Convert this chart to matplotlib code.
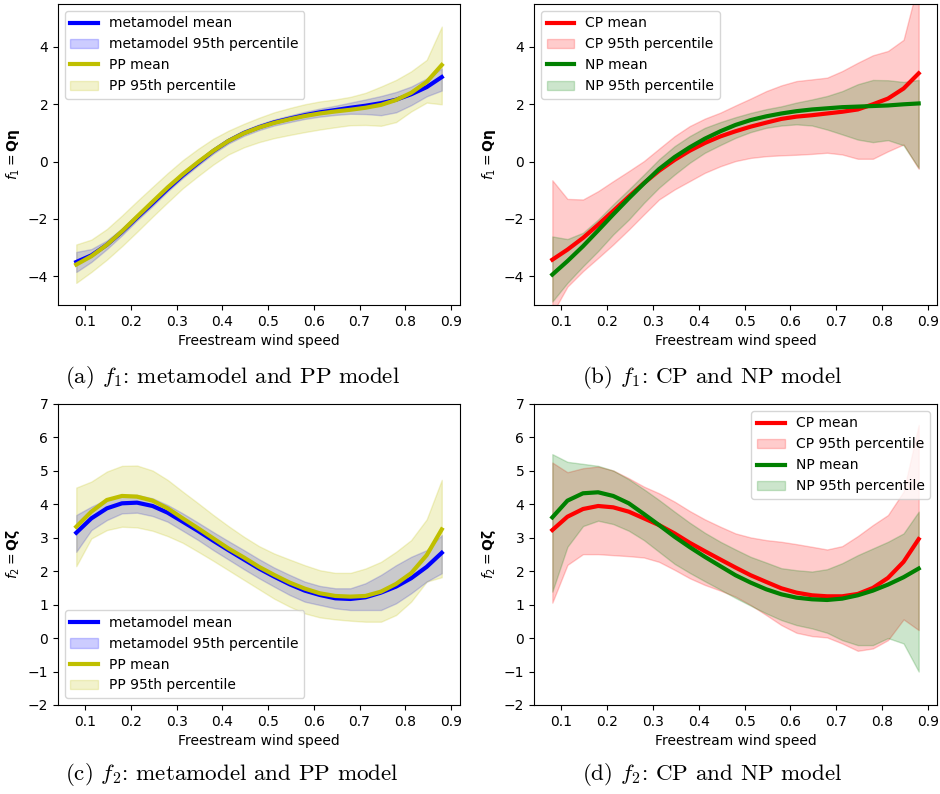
import numpy as np
import matplotlib
matplotlib.use('Agg')
import matplotlib.pyplot as plt

# freestream wind speed grid
x = [0.08, 0.113, 0.147, 0.18, 0.213, 0.247, 0.28, 0.313, 0.347, 0.38, 0.413, 0.447, 0.48,
     0.513, 0.547, 0.58, 0.613, 0.647, 0.68, 0.713, 0.747, 0.78, 0.813, 0.847, 0.88]

# (a) f1: metamodel and PP
meta1_mean = [-3.50, -3.27, -2.90, -2.45, -1.95, -1.45, -0.95, -0.48, -0.04, 0.37, 0.72, 1.00, 1.20,
              1.37, 1.50, 1.62, 1.72, 1.80, 1.88, 1.95, 2.04, 2.16, 2.35, 2.60, 2.95]
meta1_hi = [-3.15, -3.05, -2.75, -2.33, -1.85, -1.36, -0.86, -0.39, 0.05, 0.46, 0.81, 1.09, 1.30,
            1.47, 1.61, 1.74, 1.85, 1.95, 2.06, 2.17, 2.29, 2.43, 2.62, 2.90, 3.25]
meta1_lo = [-3.85, -3.50, -3.05, -2.57, -2.05, -1.55, -1.04, -0.57, -0.13, 0.28, 0.63, 0.90, 1.10,
            1.26, 1.38, 1.49, 1.57, 1.63, 1.67, 1.66, 1.62, 1.72, 1.97, 2.28, 2.48]
pp1_mean = [-3.59, -3.30, -2.90, -2.43, -1.92, -1.40, -0.90, -0.44, -0.01, 0.38, 0.72, 0.99, 1.19,
            1.35, 1.48, 1.59, 1.68, 1.75, 1.81, 1.88, 1.98, 2.15, 2.40, 2.78, 3.37]
pp1_hi = [-2.89, -2.72, -2.35, -1.88, -1.38, -0.88, -0.40, 0.05, 0.45, 0.80, 1.08, 1.32, 1.53,
          1.72, 1.87, 2.00, 2.10, 2.17, 2.26, 2.40, 2.62, 2.85, 3.15, 3.55, 4.71]
pp1_lo = [-4.23, -3.85, -3.42, -2.95, -2.45, -1.92, -1.42, -0.93, -0.50, -0.10, 0.25, 0.50, 0.68,
          0.82, 0.93, 1.03, 1.12, 1.20, 1.27, 1.28, 1.25, 1.38, 1.75, 2.06, 2.00]

# (b) f1: CP and NP
cp1_mean = [-3.42, -3.07, -2.66, -2.20, -1.72, -1.22, -0.75, -0.32, 0.06, 0.38, 0.65, 0.88, 1.06,
            1.22, 1.36, 1.49, 1.57, 1.62, 1.68, 1.74, 1.82, 2.00, 2.20, 2.55, 3.08]
cp1_hi = [-0.65, -1.30, -1.32, -1.03, -0.68, -0.33, 0.02, 0.45, 0.89, 1.24, 1.50, 1.71, 1.96,
          2.20, 2.46, 2.66, 2.81, 2.87, 2.93, 3.16, 3.45, 3.71, 3.86, 4.25, 6.30]
cp1_lo = [-5.30, -4.36, -3.82, -3.36, -2.89, -2.37, -1.84, -1.32, -0.97, -0.68, -0.39, -0.16, 0.02,
          0.13, 0.19, 0.22, 0.24, 0.27, 0.31, 0.25, 0.10, 0.10, 0.36, 0.60, -0.25]
np1_mean = [-3.94, -3.47, -2.95, -2.40, -1.84, -1.28, -0.76, -0.26, 0.16, 0.50, 0.80, 1.06, 1.28,
            1.45, 1.58, 1.68, 1.76, 1.82, 1.86, 1.90, 1.92, 1.94, 1.96, 2.00, 2.03]
np1_hi = [-2.61, -2.70, -2.48, -2.02, -1.49, -0.97, -0.45, 0.08, 0.54, 0.89, 1.18, 1.38, 1.55,
          1.70, 1.83, 1.93, 2.06, 2.17, 2.29, 2.46, 2.70, 2.85, 2.84, 2.78, 2.85]
np1_lo = [-4.88, -4.23, -3.65, -3.12, -2.54, -2.02, -1.44, -0.91, -0.45, -0.04, 0.31, 0.58, 0.83,
          1.03, 1.18, 1.26, 1.30, 1.26, 1.12, 0.95, 0.77, 0.68, 0.75, 0.57, -0.22]

# (c) f2: metamodel and PP
meta2_mean = [3.15, 3.58, 3.88, 4.03, 4.05, 3.95, 3.75, 3.48, 3.20, 2.91, 2.63, 2.35, 2.08,
              1.84, 1.61, 1.42, 1.29, 1.19, 1.17, 1.22, 1.36, 1.54, 1.79, 2.13, 2.55]
meta2_hi = [3.68, 3.93, 4.15, 4.28, 4.28, 4.18, 3.98, 3.73, 3.45, 3.17, 2.90, 2.63, 2.36,
            2.11, 1.89, 1.69, 1.56, 1.49, 1.49, 1.64, 1.89, 2.18, 2.43, 2.63, 3.08]
meta2_lo = [2.58, 3.23, 3.53, 3.73, 3.75, 3.65, 3.48, 3.21, 2.93, 2.63, 2.35, 2.06, 1.79,
            1.54, 1.29, 1.09, 0.99, 0.89, 0.84, 0.84, 0.84, 1.04, 1.34, 1.69, 1.94]
pp2_mean = [3.33, 3.78, 4.13, 4.25, 4.23, 4.11, 3.88, 3.58, 3.28, 2.98, 2.68, 2.41, 2.13,
            1.89, 1.66, 1.48, 1.34, 1.26, 1.24, 1.26, 1.39, 1.62, 1.94, 2.48, 3.25]
pp2_hi = [4.50, 4.68, 4.98, 5.15, 5.16, 5.01, 4.73, 4.38, 4.03, 3.68, 3.35, 3.03, 2.75,
          2.53, 2.35, 2.18, 2.03, 1.95, 1.95, 2.08, 2.28, 2.58, 2.93, 3.55, 4.73]
pp2_lo = [2.15, 2.98, 3.23, 3.33, 3.31, 3.21, 3.05, 2.85, 2.58, 2.31, 2.03, 1.74, 1.46,
          1.18, 0.94, 0.74, 0.62, 0.56, 0.52, 0.49, 0.49, 0.69, 1.09, 1.69, 1.82]

# (d) f2: CP and NP
cp2_mean = [3.23, 3.63, 3.86, 3.95, 3.91, 3.78, 3.58, 3.38, 3.13, 2.85, 2.60, 2.35, 2.11,
            1.88, 1.68, 1.49, 1.36, 1.28, 1.25, 1.25, 1.32, 1.50, 1.80, 2.28, 2.96]
cp2_hi = [5.25, 4.96, 5.08, 5.13, 5.01, 4.78, 4.53, 4.33, 4.08, 3.80, 3.55, 3.33, 3.13,
          3.01, 2.93, 2.88, 2.81, 2.73, 2.65, 2.75, 3.05, 3.38, 3.68, 4.38, 6.37]
cp2_lo = [1.06, 2.19, 2.51, 2.51, 2.48, 2.45, 2.41, 2.28, 2.04, 1.79, 1.59, 1.42, 1.24,
          0.99, 0.69, 0.39, 0.16, 0.06, 0.02, -0.16, -0.38, -0.31, -0.06, 0.56, 0.24]
np2_mean = [3.61, 4.11, 4.33, 4.36, 4.25, 4.03, 3.71, 3.38, 3.03, 2.72, 2.43, 2.15, 1.88,
            1.66, 1.46, 1.31, 1.21, 1.16, 1.14, 1.18, 1.28, 1.42, 1.60, 1.82, 2.08]
np2_hi = [5.50, 5.27, 5.21, 5.15, 5.01, 4.75, 4.45, 4.13, 3.78, 3.45, 3.15, 2.88, 2.65,
          2.43, 2.26, 2.09, 2.03, 1.99, 2.06, 2.24, 2.48, 2.68, 2.88, 3.13, 3.78]
np2_lo = [1.39, 2.73, 3.35, 3.51, 3.41, 3.21, 2.93, 2.58, 2.22, 1.95, 1.70, 1.45, 1.20,
          0.97, 0.74, 0.54, 0.39, 0.29, 0.16, -0.06, -0.21, -0.21, 0.00, -0.16, -1.00]

fig = plt.figure(figsize=(9.4, 7.94), dpi=100)
ax_a = fig.add_axes([0.0617, 0.6159, 0.4277, 0.3791])
ax_b = fig.add_axes([0.5681, 0.6159, 0.4287, 0.3791])
ax_c = fig.add_axes([0.0617, 0.1121, 0.4277, 0.3791])
ax_d = fig.add_axes([0.5681, 0.1121, 0.4287, 0.3791])


def draw(ax, m1, lo1, hi1, c1, n1, m2, lo2, hi2, c2, n2):
    ax.plot(x, m1, color=c1, lw=3, label=n1 + ' mean')
    ax.fill_between(x, lo1, hi1, color=c1, alpha=0.2, label=n1 + ' 95th percentile')
    ax.plot(x, m2, color=c2, lw=3, label=n2 + ' mean')
    ax.fill_between(x, lo2, hi2, color=c2, alpha=0.2, label=n2 + ' 95th percentile')
    ax.set_xlabel('Freestream wind speed')
    ax.set_xticks([0.1, 0.2, 0.3, 0.4, 0.5, 0.6, 0.7, 0.8, 0.9])


draw(ax_a, meta1_mean, meta1_lo, meta1_hi, 'b', 'metamodel', pp1_mean, pp1_lo, pp1_hi, 'y', 'PP')
draw(ax_b, cp1_mean, cp1_lo, cp1_hi, 'r', 'CP', np1_mean, np1_lo, np1_hi, 'g', 'NP')
draw(ax_c, meta2_mean, meta2_lo, meta2_hi, 'b', 'metamodel', pp2_mean, pp2_lo, pp2_hi, 'y', 'PP')
draw(ax_d, cp2_mean, cp2_lo, cp2_hi, 'r', 'CP', np2_mean, np2_lo, np2_hi, 'g', 'NP')

for ax in (ax_a, ax_b):
    ax.set_ylim(-5, 5.5)
    ax.set_ylabel(r'$f_1 = \mathbf{Q\eta}$')
for ax in (ax_c, ax_d):
    ax.set_ylim(-2, 7)
    ax.set_ylabel(r'$f_2 = \mathbf{Q\zeta}$')

ax_a.legend(loc='upper left')
ax_b.legend(loc='upper left')
ax_c.legend(loc='lower left')
ax_d.legend(loc='upper right')

# subfigure captions in Computer Modern, like the LaTeX document
captions = ['(a) $f_1$: metamodel and PP model',
            '(b) $f_1$: CP and NP model',
            '(c) $f_2$: metamodel and PP model',
            '(d) $f_2$: CP and NP model']
cap_pos = [(0.247, 0.525), (0.758, 0.525), (0.247, 0.024), (0.758, 0.024)]
for txt, (cx, cy) in zip(captions, cap_pos):
    fig.text(cx, cy, txt, ha='center', va='center', fontsize=16.6,
             family='cmr10', math_fontfamily='cm')

fig.savefig('out.png', dpi=100)
